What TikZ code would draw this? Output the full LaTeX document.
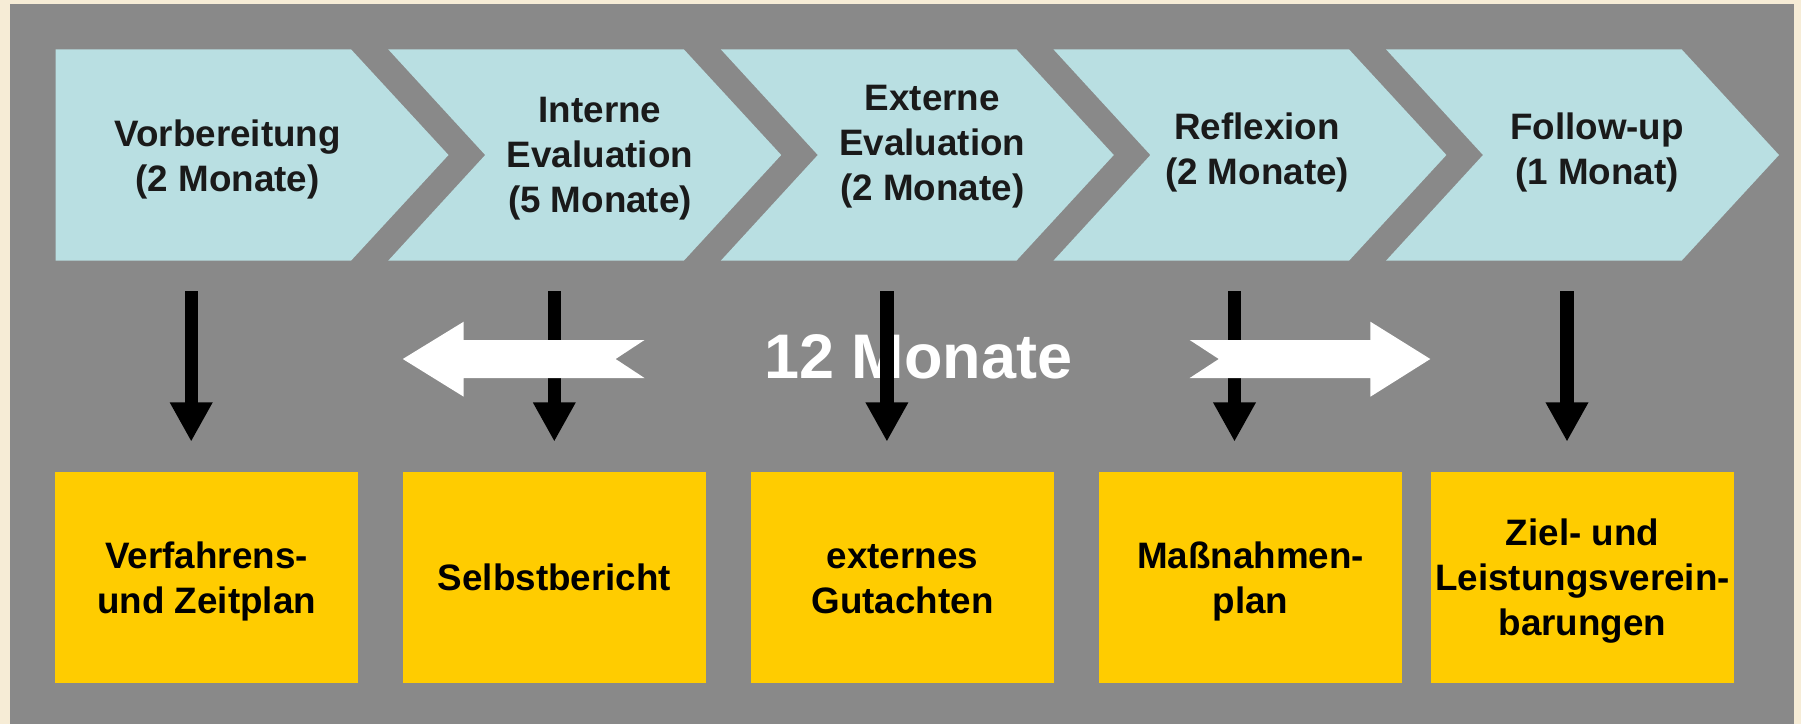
\documentclass[tikz,border=0pt]{standalone}
\usepackage{fontspec}
\setmainfont{Liberation Sans}
\usetikzlibrary{arrows.meta}
\definecolor{cream}{HTML}{F6ECD6}
\definecolor{panelgray}{HTML}{898989}
\definecolor{chevblue}{HTML}{B9DFE2}
\definecolor{boxyellow}{HTML}{FFCC00}
\definecolor{chevtxt}{HTML}{1A1A1A}
\newcommand\capl[1]{\raisebox{0pt}[0.716em][0pt]{#1}}
\begin{document}
\begin{tikzpicture}[x=0.5pt,y=-0.5pt,
  chevfill/.style={fill=chevblue},
  chevtext/.style={inner sep=0pt,align=center,text=chevtxt,font=\fontsize{18.4}{22.5}\selectfont\bfseries},
  outbox/.style={fill=boxyellow,inner sep=0pt,minimum width=151.5pt,minimum height=105.8pt,align=center,text=black,font=\fontsize{18.4}{22.5}\selectfont\bfseries},
  downarrow/.style={draw=black,line width=6.6pt,-{Triangle[width=20pt,length=19.7pt]}},
  whitearrow/.style={fill=white},
  bigtext/.style={inner sep=0pt,text=white,font=\fontsize{31.5}{36}\selectfont\bfseries}]
\useasboundingbox (0,0) rectangle (1801,724);
\fill[cream] (0,0) rectangle (1801,724);
\fill[panelgray] (9.6,4) rectangle (1794,724);
% chevrons
\fill[chevfill] (55.5,49.3) -- (351,49.3) -- (448.5,155) -- (351,260.7) -- (55.5,260.7) -- cycle;
\foreach \L in {388.2,720.8,1053.4,1386.0}{
  \fill[chevfill] (\L,49.3) -- ({\L+295.6},49.3) -- ({\L+393},155) -- ({\L+295.6},260.7) -- (\L,260.7) -- ({\L+97},155) -- cycle;
}
\node[chevtext] (c1) at (227.7,156.2) {\capl{Vorbereitung}\\\capl{(2 Monate)}};
\node[chevtext] (c2) at (600,154) {\capl{Interne}\\\capl{Evaluation}\\\capl{(5 Monate)}};
\node[chevtext] (c3) at (932.3,142.5) {\capl{Externe}\\\capl{Evaluation}\\\capl{(2 Monate)}};
\node[chevtext] (c4) at (1257,149) {\capl{Reflexion}\\\capl{(2 Monate)}};
\node[chevtext] (c5) at (1597,149) {\capl{Follow-up}\\\capl{(1 Monat)}};
% result boxes
\node[outbox] (b1) at (206.65,577.5) {\capl{Verfahrens-}\\\capl{und Zeitplan}};
\node[outbox] (b2) at (554.5,577.5) {\capl{Selbstbericht}};
\node[outbox] (b3) at (902.5,577.5) {\capl{externes}\\\capl{Gutachten}};
\node[outbox] (b4) at (1250.5,577.5) {\capl{Maßnahmen-}\\\capl{plan}};
\node[outbox] (b5) at (1582.5,577.5) {\capl{Ziel- und}\\\capl{Leistungsverein-}\\\capl{barungen}};
% 12 Monate
\node[bigtext] (m) at (918.4,355.8) {\capl{12 Monate}};
% black arrows
\foreach \i/\X in {1/191.2,2/554.3,3/886.9,4/1234.5,5/1567}{
  \coordinate (s\i) at (\X,291);
  \coordinate (e\i) at (\X,441.7);
}
\foreach \i in {1,...,5}{ \draw[downarrow] (s\i) -- (e\i); }
% white double arrows
\fill[whitearrow] (402.8,359) -- (463.7,321.7) -- (463.7,340) -- (644.5,340) -- (615.6,359) -- (644.5,378) -- (463.7,378) -- (463.7,396.7) -- cycle;
\fill[whitearrow] (1430.3,359) -- (1370.4,321.7) -- (1370.4,340) -- (1189.7,340) -- (1218.8,359) -- (1189.7,378) -- (1370.4,378) -- (1370.4,396.7) -- cycle;
\end{tikzpicture}
\end{document}
